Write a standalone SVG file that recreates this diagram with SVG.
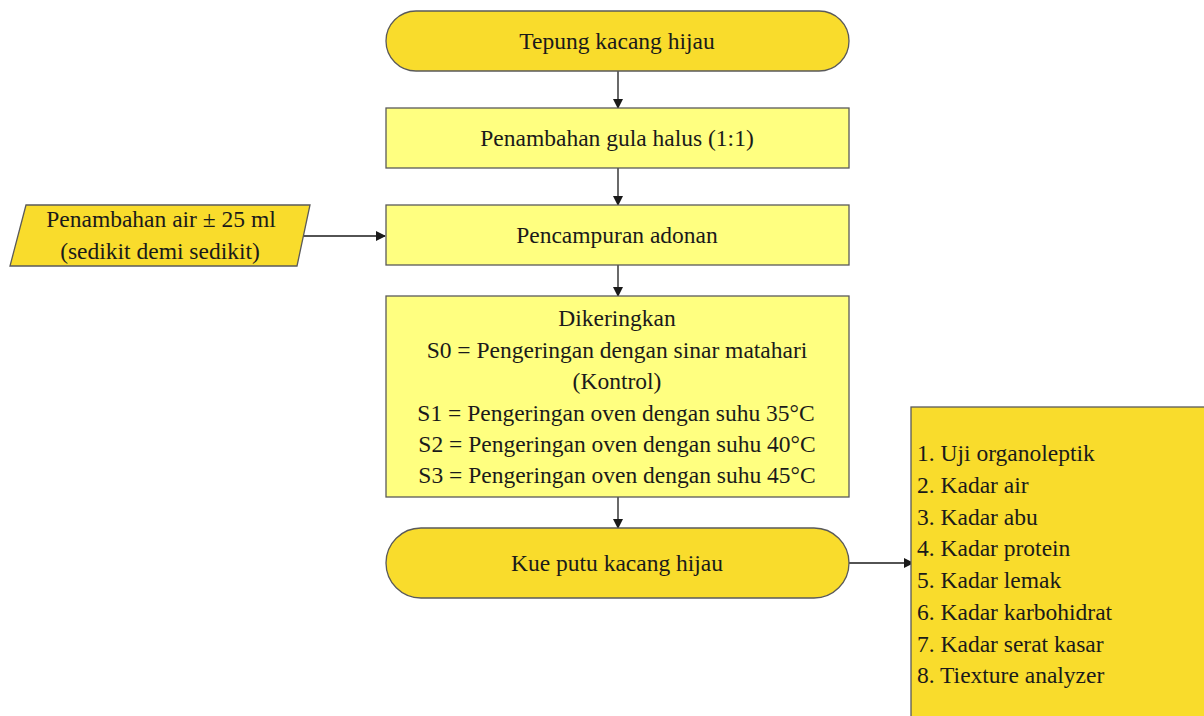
<svg xmlns="http://www.w3.org/2000/svg" width="1204" height="716" viewBox="0 0 1204 716">
<defs>
<style>
.gold{fill:#F9DC2C;stroke:#5a5a5a;stroke-width:1.3}
.light{fill:#FFFF80;stroke:#5a5a5a;stroke-width:1.3}
text{font-family:"Liberation Serif","Times New Roman",serif;font-size:23.5px;fill:#1a1a1a}
.c{text-anchor:middle}
.conn{stroke:#1a1a1a;stroke-width:1.3;fill:none;marker-end:url(#arr)}
</style>
<marker id="arr" markerWidth="10" markerHeight="10" refX="9" refY="5" orient="auto" markerUnits="userSpaceOnUse">
<path d="M0,0 L10,5 L0,10 Z" fill="#1a1a1a"/>
</marker>
</defs>
<rect width="1204" height="716" fill="#ffffff"/>
<g id="connectors">
<line class="conn" x1="618" y1="71" x2="618" y2="108"/>
<line class="conn" x1="618" y1="168" x2="618" y2="205"/>
<line class="conn" x1="618" y1="265" x2="618" y2="296"/>
<line class="conn" x1="618" y1="497" x2="618" y2="528"/>
<line class="conn" x1="303" y1="236" x2="385" y2="236"/>
<line class="conn" x1="849" y1="563" x2="913" y2="563"/>
</g>
<g id="n1">
<rect class="gold" x="386" y="11" width="463" height="60" rx="30" ry="30"/>
<text class="c" x="617" y="49">Tepung kacang hijau</text>
</g>
<g id="n2">
<rect class="light" x="386" y="108" width="463" height="60"/>
<text class="c" x="617" y="146">Penambahan gula halus (1:1)</text>
</g>
<g id="n3">
<rect class="light" x="386" y="205" width="463" height="60"/>
<text class="c" x="617" y="243">Pencampuran adonan</text>
</g>
<g id="n_in">
<polygon class="gold" points="26,205 310,205 297,266 10,266"/>
<text class="c" x="161" y="227">Penambahan air ± 25 ml</text>
<text class="c" x="160" y="259">(sedikit demi sedikit)</text>
</g>
<g id="n4">
<rect class="light" x="386" y="296" width="463" height="201"/>
<text class="c" x="617" y="326">Dikeringkan</text>
<text class="c" x="617" y="358">S0 = Pengeringan dengan sinar matahari</text>
<text class="c" x="617" y="389">(Kontrol)</text>
<text class="c" x="616" y="421">S1 = Pengeringan oven dengan suhu 35°C</text>
<text class="c" x="617" y="452">S2 = Pengeringan oven dengan suhu 40°C</text>
<text class="c" x="617" y="483">S3 = Pengeringan oven dengan suhu 45°C</text>
</g>
<g id="n5">
<rect class="gold" x="386" y="528" width="463" height="70" rx="35" ry="35"/>
<text class="c" x="617" y="571">Kue putu kacang hijau</text>
</g>
<g id="n6">
<rect class="gold" x="911" y="407" width="300" height="320"/>
<text x="917" y="461">1. Uji organoleptik</text>
<text x="917" y="493">2. Kadar air</text>
<text x="917" y="525">3. Kadar abu</text>
<text x="917" y="556">4. Kadar protein</text>
<text x="917" y="588">5. Kadar lemak</text>
<text x="917" y="620">6. Kadar karbohidrat</text>
<text x="917" y="652">7. Kadar serat kasar</text>
<text x="917" y="683">8. Tiexture analyzer</text>
</g>
</svg>
